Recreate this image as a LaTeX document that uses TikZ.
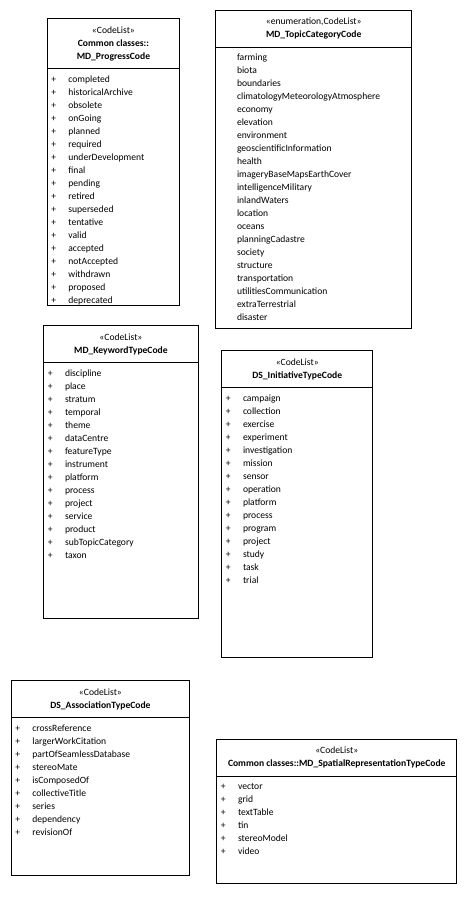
\documentclass[tikz,border=0pt]{standalone}
\usepackage{fontspec}
\setmainfont{Carlito}
\usetikzlibrary{calc}
\usetikzlibrary{positioning}

\begin{document}
\begin{tikzpicture}[
        umlbox/.style={rectangle,draw,line width=0.9pt,anchor=north west,inner sep=0pt},
        umlhead/.style={rectangle,draw,line width=0.9pt,anchor=north,align=center,inner sep=0pt,font=\fontsize{9.6pt}{13pt}\selectfont},
        entry/.style={anchor=west,inner sep=0pt,text height=7pt,text depth=2pt,font=\fontsize{9.6pt}{13pt}\selectfont},
        plussign/.style={entry,anchor=center},
        ]
        \useasboundingbox (0,0) rectangle (467pt,-913pt);

        % MD_ProgressCode
        \node[umlbox,minimum width=132.6pt,minimum height=287pt](progress) at (46.7pt,-18.3pt){};
        \node[umlhead,minimum width=132.6pt,minimum height=50pt](progress_hd) at (progress.north){«CodeList»\\\textbf{Common classes::}\\\textbf{MD\_ProgressCode}};
        \foreach \t [count=\i] in {completed,historicalArchive,obsolete,onGoing,planned,required,underDevelopment,final,pending,retired,superseded,tentative,valid,accepted,notAccepted,withdrawn,proposed,deprecated}{
            \node[entry](progress_\i) at ($(progress_hd.south west)+(21.5pt,-10.5pt-\i*13pt+13pt)$){\t};
            \node[plussign](progress_p\i) at ($(progress_\i.west)+(-14.5pt,0)$){+};
        }

        % MD_TopicCategoryCode
        \node[umlbox,minimum width=196pt,minimum height=318pt](topic) at (215.3pt,-10pt){};
        \node[umlhead,minimum width=196pt,minimum height=37pt](topic_hd) at (topic.north){«enumeration,CodeList»\\\textbf{MD\_TopicCategoryCode}};
        \foreach \t [count=\i] in {farming,biota,boundaries,climatologyMeteorologyAtmosphere,economy,elevation,environment,geoscientificInformation,health,imageryBaseMapsEarthCover,intelligenceMilitary,inlandWaters,location,oceans,planningCadastre,society,structure,transportation,utilitiesCommunication,extraTerrestrial,disaster}{
            \node[entry](topic_\i) at ($(topic_hd.south west)+(21.5pt,-10.5pt-\i*13pt+13pt)$){\t};
        }

        % MD_KeywordTypeCode
        \node[umlbox,minimum width=154.4pt,minimum height=293pt](keyword) at (43.3pt,-325.3pt){};
        \node[umlhead,minimum width=154.4pt,minimum height=37pt](keyword_hd) at (keyword.north){«CodeList»\\\textbf{MD\_KeywordTypeCode}};
        \foreach \t [count=\i] in {discipline,place,stratum,temporal,theme,dataCentre,featureType,instrument,platform,process,project,service,product,subTopicCategory,taxon}{
            \node[entry](keyword_\i) at ($(keyword_hd.south west)+(21.5pt,-10.5pt-\i*13pt+13pt)$){\t};
            \node[plussign](keyword_p\i) at ($(keyword_\i.west)+(-14.5pt,0)$){+};
        }

        % DS_InitiativeTypeCode
        \node[umlbox,minimum width=151pt,minimum height=307pt](initiative) at (221.3pt,-350.3pt){};
        \node[umlhead,minimum width=151pt,minimum height=37pt](initiative_hd) at (initiative.north){«CodeList»\\\textbf{DS\_InitiativeTypeCode}};
        \foreach \t [count=\i] in {campaign,collection,exercise,experiment,investigation,mission,sensor,operation,platform,process,program,project,study,task,trial}{
            \node[entry](initiative_\i) at ($(initiative_hd.south west)+(21.5pt,-10.5pt-\i*13pt+13pt)$){\t};
            \node[plussign](initiative_p\i) at ($(initiative_\i.west)+(-14.5pt,0)$){+};
        }

        % DS_AssociationTypeCode
        \node[umlbox,minimum width=178.6pt,minimum height=194.7pt](association) at (10.7pt,-680.3pt){};
        \node[umlhead,minimum width=178.6pt,minimum height=37pt](association_hd) at (association.north){«CodeList»\\\textbf{DS\_AssociationTypeCode}};
        \foreach \t [count=\i] in {crossReference,largerWorkCitation,partOfSeamlessDatabase,stereoMate,isComposedOf,collectiveTitle,series,dependency,revisionOf}{
            \node[entry](association_\i) at ($(association_hd.south west)+(21.5pt,-10.5pt-\i*13pt+13pt)$){\t};
            \node[plussign](association_p\i) at ($(association_\i.west)+(-14.5pt,0)$){+};
        }

        % MD_SpatialRepresentationTypeCode
        \node[umlbox,minimum width=240pt,minimum height=144.3pt](spatial) at (216.3pt,-738.7pt){};
        \node[umlhead,minimum width=240pt,minimum height=37pt](spatial_hd) at (spatial.north){«CodeList»\\\textbf{Common classes::MD\_SpatialRepresentationTypeCode}};
        \foreach \t [count=\i] in {vector,grid,textTable,tin,stereoModel,video}{
            \node[entry](spatial_\i) at ($(spatial_hd.south west)+(21.5pt,-10.5pt-\i*13pt+13pt)$){\t};
            \node[plussign](spatial_p\i) at ($(spatial_\i.west)+(-14.5pt,0)$){+};
        }

\end{tikzpicture}
\end{document}
